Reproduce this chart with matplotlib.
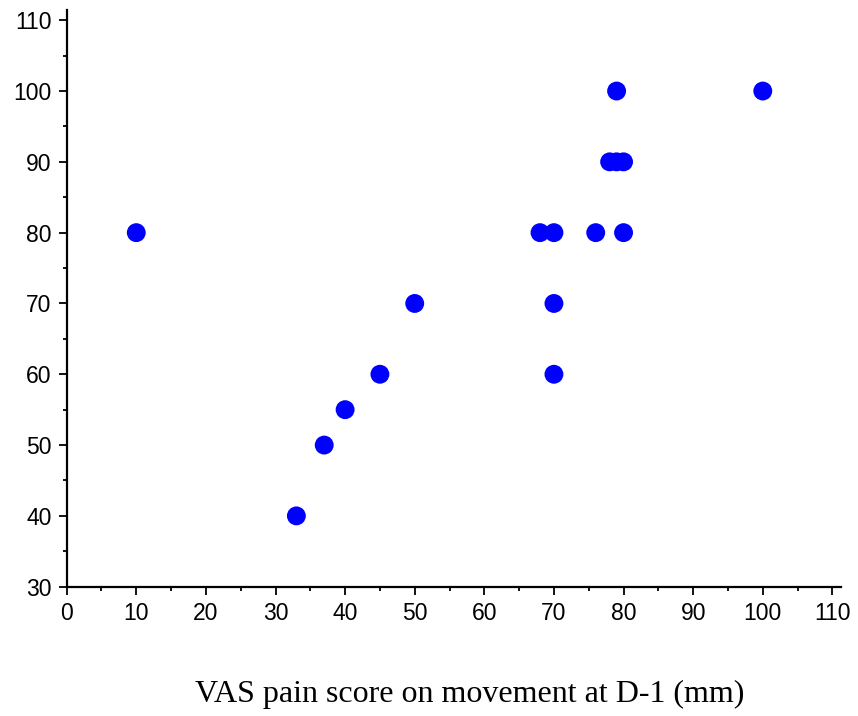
import matplotlib
matplotlib.use("Agg")
import matplotlib.pyplot as plt
from matplotlib.ticker import MultipleLocator

x_vals = [10, 33, 37, 40, 45, 50, 68, 70, 70, 70, 76, 80, 78, 79, 80, 79, 100]
y_vals = [80, 40, 50, 55, 60, 70, 80, 80, 70, 60, 80, 80, 90, 90, 90, 100, 100]
x_label = "VAS pain score on movement at D-1 (mm)"

fig = plt.figure(figsize=(8.58, 7.16), dpi=100)
ax = fig.add_axes([0.0777, 0.1806, 0.903, 0.805])
ax.scatter(x_vals, y_vals, s=185, color="#0000FF", edgecolors="none", zorder=3, clip_on=False)
ax.set_xlim(0, 111.3)
ax.set_ylim(30, 111.4)
ax.xaxis.set_major_locator(MultipleLocator(10))
ax.xaxis.set_minor_locator(MultipleLocator(5))
ax.yaxis.set_major_locator(MultipleLocator(10))
ax.yaxis.set_minor_locator(MultipleLocator(5))
for s in ["top", "right"]:
    ax.spines[s].set_visible(False)
for s in ["left", "bottom"]:
    ax.spines[s].set_linewidth(1.6)
ax.tick_params(which="major", direction="out", length=6, width=1.3,
               labelsize=16.5, pad=5)
ax.tick_params(which="minor", direction="out", length=3, width=1.3)
for lab in ax.get_xticklabels() + ax.get_yticklabels():
    lab.set_fontfamily(["Liberation Sans", "DejaVu Sans"])
fig.text(0.547, 0.0196, x_label, fontsize=23, family=["Liberation Serif", "DejaVu Serif"],
         ha="center", va="baseline")
fig.savefig("out.png", dpi=100)
